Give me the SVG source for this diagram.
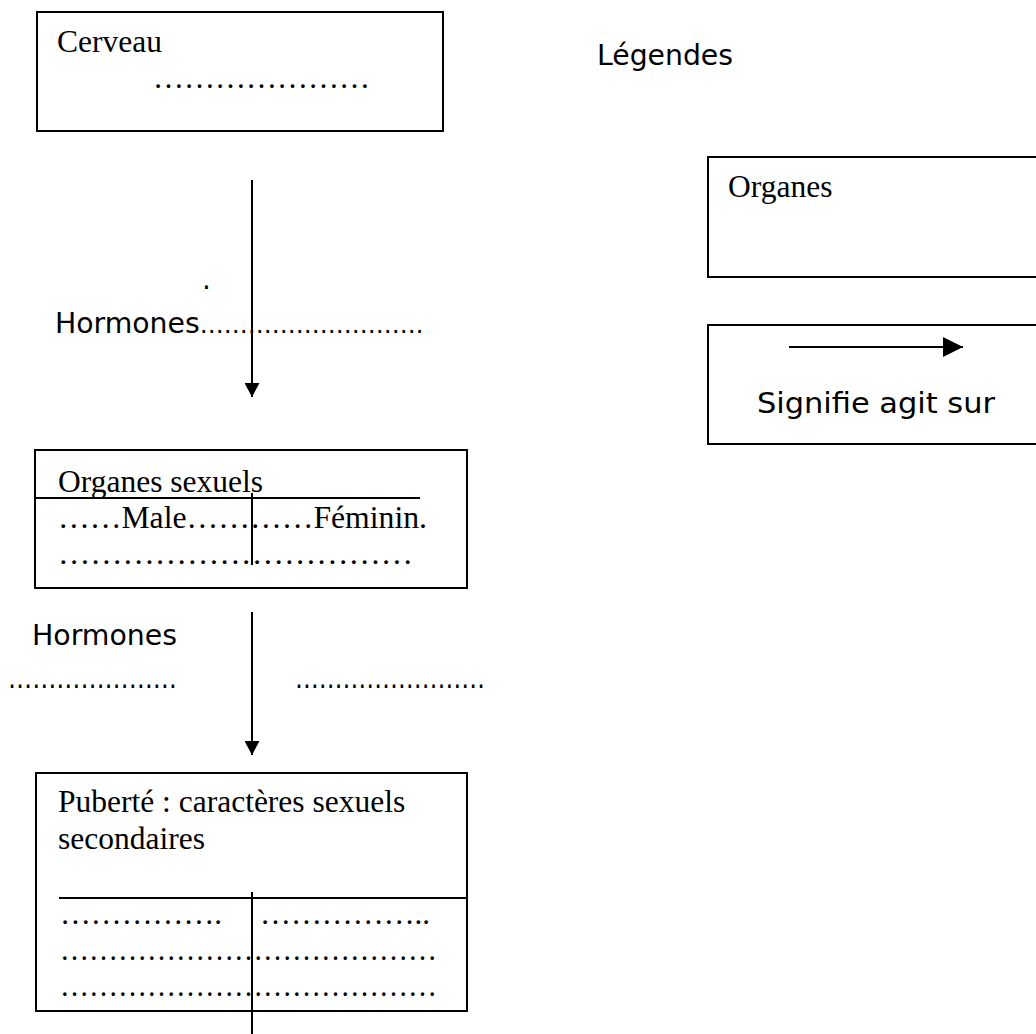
<svg xmlns="http://www.w3.org/2000/svg" width="1036" height="1034" viewBox="0 0 1036 1034">
<defs>
<style>
.box{fill:#fff;stroke:#000;stroke-width:2}
.ln{stroke:#000;stroke-width:2;fill:none}
.serif{font-family:"Liberation Serif","Times New Roman",serif;font-size:31.5px;fill:#000}
.hand{font-family:"DejaVu Sans",sans-serif;font-size:28px;fill:#000}
</style>
<marker id="ah" viewBox="0 0 14 15" refX="14" refY="7.5" markerWidth="14" markerHeight="15" markerUnits="userSpaceOnUse" orient="auto">
<path d="M0,0 L14,7.5 L0,15 Z" fill="#000"/>
</marker>
<marker id="ahL" viewBox="0 0 20 20" refX="20" refY="10" markerWidth="20" markerHeight="20" markerUnits="userSpaceOnUse" orient="auto">
<path d="M0,0 L20,10 L0,20 Z" fill="#000"/>
</marker>
</defs>
<rect width="1036" height="1034" fill="#fff"/>

<g id="cerveau">
<rect class="box" x="37" y="12" width="406" height="119"/>
<text class="serif" x="57" y="52">Cerveau</text>
<text class="serif" x="153" y="88" textLength="217" lengthAdjust="spacingAndGlyphs">…………………</text>
</g>

<g id="hormones1">
<text class="hand" x="202" y="289" font-size="20">.</text>
<text class="hand" x="55" y="333"><tspan font-size="28.3">Hormones</tspan><tspan font-size="24">……………………….</tspan></text>
</g>

<g id="organes-sexuels">
<rect class="box" x="35" y="450" width="432" height="138"/>
<text class="serif" x="58" y="492">Organes sexuels</text>
<line class="ln" x1="35" y1="498" x2="420" y2="498"/>
<line class="ln" x1="252" y1="493" x2="252" y2="565"/>
<text class="serif" x="58" y="528" textLength="369" lengthAdjust="spacingAndGlyphs">……Male…………Féminin.</text>
<text class="serif" x="58" y="564" textLength="355" lengthAdjust="spacingAndGlyphs">……………………………</text>
</g>

<g id="hormones2">
<text class="hand" x="32" y="645" textLength="145" lengthAdjust="spacingAndGlyphs">Hormones</text>
<text class="hand" x="8" y="688" textLength="169" lengthAdjust="spacingAndGlyphs">…………………</text>
<text class="hand" x="295" y="688" textLength="190" lengthAdjust="spacingAndGlyphs">……………………</text>
</g>

<g id="puberte">
<rect class="box" x="36" y="773" width="431" height="238"/>
<text class="serif" x="58" y="812">Puberté : caractères sexuels</text>
<text class="serif" x="58" y="849">secondaires</text>
<line class="ln" x1="59" y1="898" x2="467" y2="898"/>
<line class="ln" x1="252" y1="892" x2="252" y2="1034"/>
<text class="serif" x="60" y="924" textLength="162" lengthAdjust="spacingAndGlyphs">…………….</text>
<text class="serif" x="260" y="924" textLength="170" lengthAdjust="spacingAndGlyphs">……………..</text>
<text class="serif" x="60" y="960" textLength="377" lengthAdjust="spacingAndGlyphs">…………………………………</text>
<text class="serif" x="60" y="996" textLength="377" lengthAdjust="spacingAndGlyphs">…………………………………</text>
</g>

<g id="legendes">
<text class="hand" x="597" y="65" textLength="136" lengthAdjust="spacingAndGlyphs">Légendes</text>
</g>

<g id="legende-organes">
<rect class="box" x="708" y="157" width="400" height="120"/>
<text class="serif" x="728" y="197">Organes</text>
</g>

<g id="legende-fleche">
<rect class="box" x="708" y="325" width="400" height="119"/>
<line class="ln" x1="789" y1="347" x2="963" y2="347" marker-end="url(#ahL)"/>
<text class="hand" x="757" y="413" textLength="238" lengthAdjust="spacingAndGlyphs">Signifie agit sur</text>
</g>

<g id="connectors">
<line class="ln" x1="252" y1="180" x2="252" y2="397" marker-end="url(#ah)"/>
<line class="ln" x1="252" y1="612" x2="252" y2="755" marker-end="url(#ah)"/>
</g>
</svg>
